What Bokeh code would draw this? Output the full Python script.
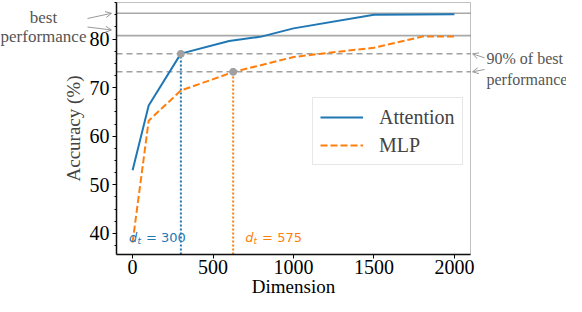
from bokeh.plotting import figure
from bokeh.models import (Range1d, Label, Arrow, OpenHead, BoxAnnotation,
                          SingleIntervalTicker, FixedTicker)
from bokeh.embed import file_html
from bokeh.resources import INLINE

# ---- data ----
att_x = [0, 100, 300, 600, 800, 1000, 1500, 2000]
att_y = [53.0, 66.3, 77.0, 79.6, 80.5, 82.2, 85.0, 85.1]
mlp_x = [0, 100, 300, 625, 1000, 1250, 1500, 1800, 2000]
mlp_y = [38.1, 63.2, 69.4, 73.2, 76.3, 77.3, 78.2, 80.5, 80.5]

best_levels = [85.3, 80.7]          # best performance (Attention, MLP)
thr_levels = [76.95, 73.25]         # 90% of best performance
dt_x = [300, 625]                   # where each curve reaches the threshold
dt_text = ["= 300", "= 575"]
x_ticks = [0, 500, 1000, 1500, 2000]

BLUE = "#1f77b4"
ORANGE = "#ff7f0e"
GRAY = "#a8a8a8"
SERIF = "Liberation Serif"
TXT = "#555555"
ARROW = "#999999"

# ---- layout: the frame covers the whole canvas, the visible box is inside ----
W, H = 566, 296
XMIN, XMAX = -100, 2100            # visible x limits
Y0, Y1 = 35.644, 87.525            # visible y limits
LEFT, RIGHT, TOP, BOTTOM = 116, 470, 2, 254   # box edges in pixels
ppx = (RIGHT - LEFT) / (XMAX - XMIN)
ppy = (BOTTOM - TOP) / (Y1 - Y0)
TS = 4.5                            # text baseline correction (pixels)

def dx(px):
    return XMIN + (px - LEFT) / ppx

def dy(py):
    return Y1 - (py - TOP) / ppy

def ty(py):
    return dy(py - TS)

p = figure(width=W, height=H,
           x_range=Range1d(dx(0), dx(W)), y_range=Range1d(dy(H), dy(0)),
           output_backend="svg", toolbar_location=None,
           min_border=0, min_border_left=0, min_border_right=0,
           min_border_top=0, min_border_bottom=0)
p.grid.visible = False
p.outline_line_color = None

# reference lines (drawn first, under the curves)
p.segment(x0=[XMIN] * 2, y0=best_levels, x1=[XMAX] * 2, y1=best_levels,
          line_color=GRAY, line_width=1.6)
p.segment(x0=[XMIN] * 2, y0=thr_levels, x1=[XMAX] * 2, y1=thr_levels,
          line_color="#a0a0a0", line_width=1.5, line_dash="6 4")

# vertical dotted lines down to the axis
p.segment(x0=[dt_x[0]], y0=[Y0], x1=[dt_x[0]], y1=[thr_levels[0]],
          line_color=BLUE, line_width=2, line_dash="2 2")
p.segment(x0=[dt_x[1]], y0=[Y0], x1=[dt_x[1]], y1=[thr_levels[1]],
          line_color=ORANGE, line_width=2, line_dash="2 2")

p.line(att_x, att_y, line_color=BLUE, line_width=2, legend_label="Attention")
p.line(mlp_x, mlp_y, line_color=ORANGE, line_width=2, line_dash="7 3",
       legend_label="MLP")
p.scatter(dt_x, thr_levels, size=7, color="#a0a0a0")

# box outline (top / right spines)
p.add_layout(BoxAnnotation(left=XMIN, right=XMAX, bottom=Y0, top=Y1,
                           fill_color=None, line_color="#333333",
                           line_width=1))

# axes pinned to the visible box
p.xaxis.fixed_location = Y0
p.xaxis.bounds = (XMIN, XMAX)
p.yaxis.fixed_location = XMIN
p.yaxis.bounds = (Y0, Y1)
p.xaxis.ticker = FixedTicker(ticks=x_ticks)
p.yaxis.ticker = SingleIntervalTicker(interval=10, num_minor_ticks=4)
for ax in (p.xaxis[0], p.yaxis[0]):
    ax.major_label_text_font = SERIF
    ax.major_label_text_font_size = "20px"
    ax.major_label_text_color = "black"
    ax.axis_line_color = "black"
    ax.axis_line_width = 1.5
    ax.major_tick_line_color = "black"
    ax.minor_tick_line_color = "black"
    ax.major_tick_in = 0
    ax.major_tick_out = 4
    ax.minor_tick_in = 0
    ax.minor_tick_out = 2
p.xaxis.minor_tick_line_color = None
p.xaxis.major_label_standoff = 1
p.yaxis.major_label_standoff = 3
p.yaxis.axis_label = "Accuracy (%)"
p.yaxis.axis_label_text_font = SERIF
p.yaxis.axis_label_text_font_size = "19px"
p.yaxis.axis_label_text_font_style = "normal"
p.yaxis.axis_label_standoff = 3

p.add_layout(Label(x=(XMIN + XMAX) / 2, y=ty(290), text="Dimension",
                   text_font=SERIF, text_font_size="19px", text_align="center",
                   text_baseline="alphabetic", text_color="black"))

# legend
lg = p.legend[0]
lg.location = (312, 131)
lg.label_text_font = SERIF
lg.label_text_font_size = "20px"
lg.glyph_width = 43
lg.glyph_height = 24
lg.label_height = 24
lg.label_standoff = 16
lg.padding = 7
lg.spacing = 4
lg.margin = 0
lg.border_line_color = "#d0d0d0"
lg.border_line_width = 1

# d_t annotations
for xs, col, txt in ((-22, BLUE, dt_text[0]), (700, ORANGE, dt_text[1])):
    p.add_layout(Label(x=xs, y=ty(241.5), text="d", text_font="DejaVu Sans",
                       text_font_style="italic", text_font_size="13px",
                       text_color=col, text_baseline="alphabetic"))
    p.add_layout(Label(x=xs + 52, y=ty(245), text="t", text_font="DejaVu Sans",
                       text_font_style="italic", text_font_size="9px",
                       text_color=col, text_baseline="alphabetic"))
    p.add_layout(Label(x=xs + 105, y=ty(241.5), text=txt,
                       text_font="DejaVu Sans", text_font_size="13px",
                       text_color=col, text_baseline="alphabetic"))

# "best performance" annotation (left)
p.add_layout(Label(x=dx(43), y=ty(21), text="best", text_font=SERIF,
                   text_font_size="17px", text_color=TXT, text_align="center",
                   text_baseline="alphabetic"))
p.add_layout(Label(x=dx(43), y=ty(40.5), text="performance", text_font=SERIF,
                   text_font_size="17px", text_color=TXT, text_align="center",
                   text_baseline="alphabetic"))
for ys, ye in ((18, best_levels[0]), (26.5, dy(29.5))):
    p.add_layout(Arrow(end=OpenHead(size=6, line_color=ARROW, line_width=1),
                       x_start=dx(87), y_start=dy(ys), x_end=dx(111), y_end=ye,
                       line_color=ARROW, line_width=1))

# "90% of best performance" annotation (right)
p.add_layout(Label(x=dx(486), y=ty(62.5), text="90% of best", text_font=SERIF,
                   text_font_size="16px", text_color=TXT,
                   text_baseline="alphabetic"))
p.add_layout(Label(x=dx(486), y=ty(83), text="performance", text_font=SERIF,
                   text_font_size="16px", text_color=TXT,
                   text_baseline="alphabetic"))
for ys, ye in ((57.3, thr_levels[0]), (69, thr_levels[1])):
    p.add_layout(Arrow(end=OpenHead(size=6, line_color=ARROW, line_width=1),
                       x_start=dx(484), y_start=dy(ys), x_end=dx(472), y_end=ye,
                       line_color=ARROW, line_width=1))

open("out.html", "w").write(file_html(p, INLINE))
